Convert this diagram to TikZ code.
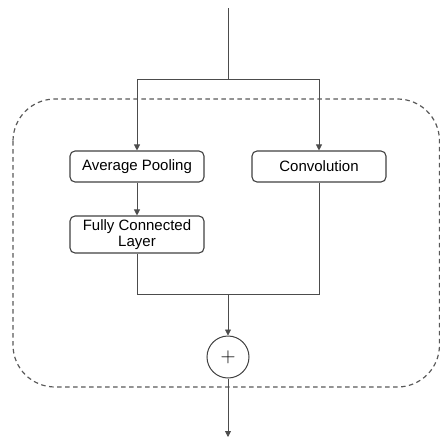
\documentclass[tikz,border=0pt]{standalone}
\usepackage{fontspec}
\setmainfont{Liberation Sans}
\usetikzlibrary{arrows.meta}
\begin{document}
\begin{tikzpicture}[x=1pt,y=-1pt,
  line/.style={draw=black!70, line width=0.8pt},
  arr/.style={line, -{Triangle[length=6pt,width=6pt]}},
  blockbox/.style={draw=black!75, line width=1.1pt, rounded corners=5pt, minimum width=134pt, inner sep=1pt, align=center, font=\fontsize{15}{16}\selectfont},
  sumnode/.style={circle, draw=black!75, line width=1pt, minimum size=42pt, inner sep=0pt, font=\fontsize{20}{20}\selectfont}
]
\useasboundingbox (0,0) rectangle (440,440);
\draw[draw=black!65, line width=1.2pt, dash pattern=on 4.5pt off 3.5pt, rounded corners=42pt] (13,99) rectangle (439.5,387);
\node[blockbox, minimum height=31pt] (ap) at (137,166.5) {Average Pooling};
\node[blockbox, minimum height=31pt] (conv) at (319,166.5) {Convolution};
\node[blockbox, minimum height=37pt] (fc) at (137,234.5) {Fully Connected\\Layer};
\node[sumnode] (sum) at (228,357) {$+$};
\coordinate (in) at (228,8);
\coordinate (split) at (228,79);
\coordinate (merge) at (228,294);
\coordinate (out) at (228,437);
\draw[line] (in) -- (split);
\draw[arr] (split) -| (ap);
\draw[arr] (split) -| (conv);
\draw[arr] (ap) -- (fc);
\draw[line] (fc) |- (merge);
\draw[line] (conv) |- (merge);
\draw[arr] (merge) -- (sum);
\draw[arr] (sum) -- (out);
\end{tikzpicture}
\end{document}
